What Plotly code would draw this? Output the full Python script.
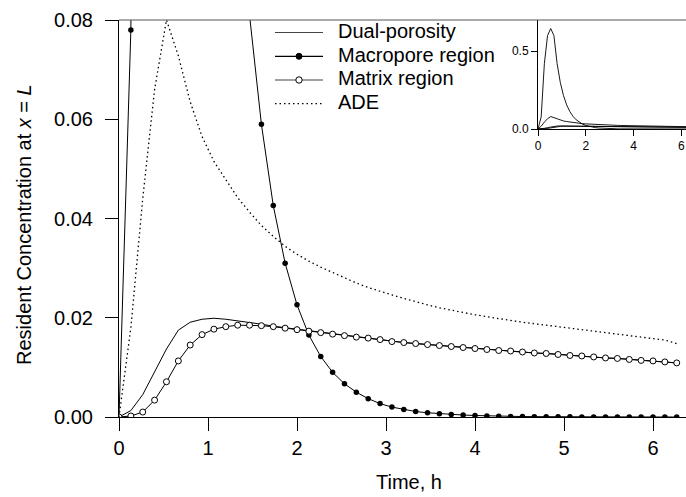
import plotly.graph_objects as go

# time grid (h): sampled every 8 min
time_h = [k * 8 / 60 for k in range(48)]

dual_porosity = [0.0, 0.0013, 0.0045, 0.0090, 0.0137, 0.0175, 0.0191, 0.0197, 0.0199, 0.0197,
                 0.0194, 0.0191, 0.0187, 0.0183, 0.0180, 0.0176, 0.0173, 0.0170, 0.0167, 0.0164,
                 0.0161, 0.0159, 0.0156, 0.0152, 0.0150, 0.0148, 0.0146, 0.0144, 0.0142, 0.0140,
                 0.0138, 0.0136, 0.0134, 0.0133, 0.0131, 0.0129, 0.0128, 0.0126, 0.0124, 0.0123,
                 0.0121, 0.0119, 0.0118, 0.0116, 0.0114, 0.0113, 0.0111, 0.0109]

macropore = [0.0, 0.078, 0.42, 0.60, 0.645, 0.60, 0.42, 0.30, 0.215, 0.155,
             0.112, 0.081, 0.059, 0.0426, 0.031, 0.0226, 0.0165, 0.0122, 0.0090, 0.0067,
             0.0050, 0.0037, 0.0027, 0.0020, 0.0015, 0.0011, 0.00085, 0.00065, 0.0005, 0.0004,
             0.0003, 0.00022, 0.00016, 0.00012, 0.00009, 0.00007, 0.00005, 0.00004, 0.00003, 0.00002,
             0.00002, 0.00001, 0.00001, 0.00001, 0.0, 0.0, 0.0, 0.0]

matrix = [0.0, 0.0002, 0.0010, 0.0034, 0.0071, 0.0113, 0.0145, 0.0166, 0.0177, 0.0182,
          0.0185, 0.0185, 0.0184, 0.0182, 0.0179, 0.0176, 0.0173, 0.0170, 0.0167, 0.0164,
          0.0161, 0.0159, 0.0156, 0.0152, 0.0150, 0.0148, 0.0146, 0.0144, 0.0142, 0.0140,
          0.0138, 0.0136, 0.0134, 0.0133, 0.0131, 0.0129, 0.0128, 0.0126, 0.0124, 0.0123,
          0.0121, 0.0119, 0.0118, 0.0116, 0.0114, 0.0113, 0.0111, 0.0109]

ade = [0.0, 0.018, 0.044, 0.066, 0.080, 0.0728, 0.0635, 0.0565, 0.0515, 0.0478,
       0.0442, 0.0413, 0.0386, 0.0364, 0.0344, 0.0328, 0.0314, 0.0302, 0.0291, 0.0280,
       0.0270, 0.0261, 0.0253, 0.0246, 0.0239, 0.0232, 0.0226, 0.0220, 0.0215, 0.0210,
       0.0206, 0.0202, 0.0198, 0.0195, 0.0191, 0.0188, 0.0185, 0.0182, 0.0179, 0.0176,
       0.0173, 0.0170, 0.0167, 0.0164, 0.0161, 0.0158, 0.0155, 0.0148]

series_names = ["Dual-porosity", "Macropore region", "Matrix region", "ADE"]
x_ticks = [0, 1, 2, 3, 4, 5, 6]
y_ticks = [0.00, 0.02, 0.04, 0.06, 0.08]
inset_x_ticks = [0, 2, 4, 6]
inset_y_ticks = [0.0, 0.5]

FONT = "Liberation Sans, Arial, sans-serif"
W, H = 686, 497
ML, MR, MT, MB = 119, 0, 20, 80
PW, PH = W - ML - MR, H - MT - MB


def px_x(p):
    return (p - ML) / PW


def px_y(p):
    return (H - MB - p) / PH


fig = go.Figure()

# main plot
fig.add_trace(go.Scatter(x=time_h, y=dual_porosity, mode="lines", name=series_names[0],
                         line=dict(color="black", width=1), showlegend=False))
fig.add_trace(go.Scatter(x=time_h, y=macropore, mode="lines+markers", name=series_names[1],
                         line=dict(color="black", width=1),
                         marker=dict(symbol="circle", size=5.5, color="black"), showlegend=False))
fig.add_trace(go.Scatter(x=time_h, y=matrix, mode="lines+markers", name=series_names[2],
                         line=dict(color="black", width=1),
                         marker=dict(symbol="circle", size=6, color="white",
                                     line=dict(color="black", width=1)), showlegend=False))
fig.add_trace(go.Scatter(x=time_h, y=ade, mode="lines", name=series_names[3],
                         line=dict(color="black", width=1.3, dash="1.5px,3px"), showlegend=False))

# inset
for vals in (dual_porosity, macropore, matrix, ade):
    fig.add_trace(go.Scatter(x=time_h, y=vals, mode="lines", xaxis="x2", yaxis="y2",
                             line=dict(color="black", width=0.9), showlegend=False,
                             hoverinfo="skip"))

axis_common = dict(showgrid=False, zeroline=False, showline=True, linecolor="black",
                   linewidth=1, ticks="outside", tickcolor="black", tickwidth=1,
                   tickfont=dict(family=FONT, size=20, color="black"))
inset_font = dict(family=FONT, size=12, color="black")

inset_x0 = px_x(538)
inset_y0 = px_y(129)
x_max = PW / 89.0
inset_x_max = 6.2

fig.update_layout(
    width=W, height=H,
    margin=dict(l=ML, r=MR, t=MT, b=MB),
    paper_bgcolor="white", plot_bgcolor="white",
    font=dict(family=FONT, color="black"),
    xaxis=dict(range=[0, x_max], tickvals=x_ticks, ticklen=13, domain=[0, 1],
               ticklabeloverflow="allow", **axis_common),
    yaxis=dict(range=[0, 0.08], tickvals=y_ticks, tickformat=".2f", ticklen=13,
               ticklabelstandoff=8, domain=[0, 1], **axis_common),
    xaxis2=dict(range=[0, inset_x_max], tickvals=inset_x_ticks, ticklen=6,
                domain=[inset_x0, 1], anchor="y2", ticklabeloverflow="allow",
                **{**axis_common, "tickfont": inset_font}),
    yaxis2=dict(range=[0, 0.7], tickvals=inset_y_ticks, tickformat=".1f", ticklen=6,
                domain=[inset_y0, 1], anchor="x2",
                **{**axis_common, "tickfont": inset_font}),
    showlegend=False,
)

shapes = [dict(type="line", xref="paper", yref="paper", x0=0, x1=1, y0=1, y1=1,
               line=dict(color="#555555", width=1))]
annotations = []

# legend (drawn manually)
rows_px = [32.5, 56.3, 80.0, 103.7]
lx0, lx1, lxm, ltx = px_x(275), px_x(323), px_x(299), px_x(336)
for i, name in enumerate(series_names):
    yy = px_y(rows_px[i])
    dash = "1.5px,3px" if i == 3 else "solid"
    color = "#444444" if i in (0, 2) else "black"
    shapes.append(dict(type="line", xref="paper", yref="paper", x0=lx0, x1=lx1, y0=yy, y1=yy,
                       line=dict(color=color, width=1.3 if i == 3 else 1.2, dash=dash)))
    if i in (1, 2):
        fill = "black" if i == 1 else "white"
        r = 3 if i == 1 else 3.2
        shapes.append(dict(type="circle", xref="paper", yref="paper", xsizemode="pixel",
                           ysizemode="pixel", xanchor=lxm, yanchor=yy, x0=-r, x1=r, y0=-r, y1=r,
                           fillcolor=fill, line=dict(color="black", width=1)))
    annotations.append(dict(text=name, xref="paper", yref="paper", x=ltx, y=yy + 0.004,
                            xanchor="left", yanchor="middle", showarrow=False,
                            font=dict(family=FONT, size=20, color="black")))

annotations.append(dict(text="Time, h", xref="paper", yref="paper", x=px_x(408.7),
                        y=px_y(482), xanchor="center", yanchor="middle", showarrow=False,
                        font=dict(family=FONT, size=20, color="black")))
annotations.append(dict(text="Resident Concentration at <i>x</i> = <i>L</i>", xref="paper",
                        yref="paper", x=px_x(24), y=px_y(225), xanchor="center",
                        yanchor="middle", textangle=-90, showarrow=False,
                        font=dict(family=FONT, size=20, color="black")))

fig.update_layout(shapes=shapes, annotations=annotations)

fig.write_html("out.html", config={"displayModeBar": False},
               post_script="document.body.style.margin='0';document.body.style.overflow='hidden';")
